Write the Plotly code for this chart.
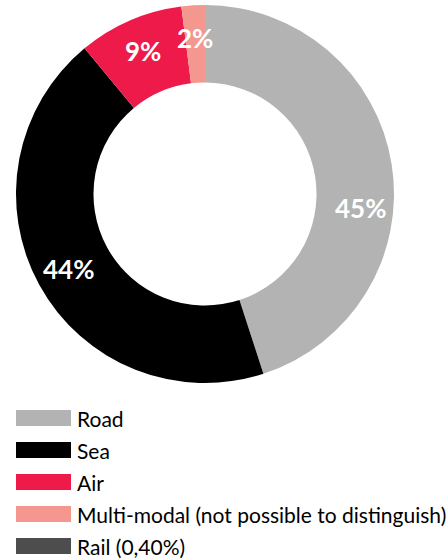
import math
import plotly.graph_objects as go

modes = ['Road', 'Sea', 'Air', 'Multi-modal (not possible to distinguish)', 'Rail (0,40%)']
shares = [45, 44, 9, 2, 0]
colors = ['#b3b3b3', '#000000', '#ee1a4a', '#f4978e', '#4d4d4d']

W, H = 448, 559
cx, cy, r_out, hole = 205, 194, 189, 0.59

fig = go.Figure(go.Pie(
    labels=modes, values=shares,
    marker=dict(colors=colors, line=dict(width=0)),
    hole=hole, sort=False, direction='clockwise', rotation=0,
    textinfo='none',
    domain=dict(x=[(cx - r_out) / W, (cx + r_out) / W], y=[1 - (cy + r_out) / H, 1 - (cy - r_out) / H]),
    showlegend=False, hoverinfo='label+percent'
))

# percentage labels in each slice (road label sits a bit lower in the original)
annotations = []
total = sum(shares)
cum = 0
r_lab = 156
nudge = {'Road': 14}
for name, s in zip(modes, shares):
    ang = math.radians((cum + s / 2) / total * 360 + nudge.get(name, 0))
    cum += s
    if s > 0:
        annotations.append(dict(text=f'<b>{s}%</b>', xref='paper', yref='paper',
                                x=(cx + r_lab * math.sin(ang)) / W, y=1 - (cy - r_lab * math.cos(ang)) / H,
                                xanchor='center', yanchor='middle',
                                showarrow=False, font=dict(size=26, color='white', family='Lato')))

# legend drawn by hand to get the wide swatches
shapes = []
for i, (name, col) in enumerate(zip(modes, colors)):
    yc = 418 + i * 32
    shapes.append(dict(type='rect', xref='paper', yref='paper',
                       x0=16 / W, x1=71 / W, y0=1 - (yc + 8) / H, y1=1 - (yc - 8) / H,
                       fillcolor=col, line=dict(width=0)))
    annotations.append(dict(text=name, xref='paper', yref='paper',
                            x=75 / W, y=1 - yc / H, xanchor='left', yanchor='middle',
                            showarrow=False, font=dict(size=21, color='black', family='Lato')))

fig.update_layout(width=W, height=H, margin=dict(l=0, r=0, t=0, b=0),
                  paper_bgcolor='white', plot_bgcolor='white',
                  shapes=shapes, annotations=annotations)

fig.write_html("out.html", config={'displayModeBar': False},
               post_script="document.body.style.margin='0';")
